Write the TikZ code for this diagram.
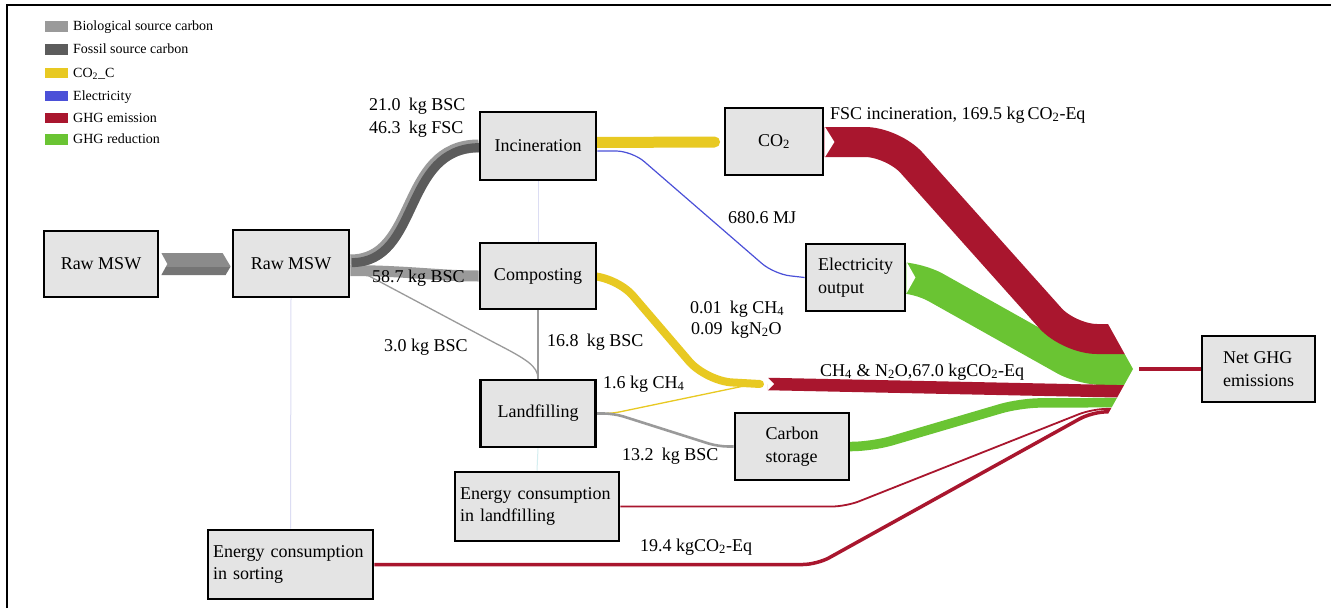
\documentclass[tikz,border=0pt]{standalone}
\usepackage{fontspec}
\setmainfont{Liberation Serif}
\usetikzlibrary{calc}
\pgfdeclarelayer{bg}
\pgfdeclarelayer{flows}
\pgfsetlayers{bg,flows,main}

\definecolor{biocarbon}{HTML}{9A9A9A}
\definecolor{fossilcarbon}{HTML}{5C5C5C}
\definecolor{cocarbon}{HTML}{E8C922}
\definecolor{power}{HTML}{4B50D8}
\definecolor{emission}{HTML}{A9162E}
\definecolor{reduction}{HTML}{6AC433}
\definecolor{boxgray}{HTML}{E4E4E4}
\definecolor{guide}{HTML}{DCDDF3}
\definecolor{guidecyan}{HTML}{D4EEF0}

\newcommand\labelfont{\fontsize{18}{22.5}\selectfont}
\newcommand\legendfont{\fontsize{14}{16}\selectfont}
\newcommand\lowtwo{\textsubscript{2}}
\newcommand\lowfour{\textsubscript{4}}

\begin{document}
\begin{tikzpicture}[x=1pt,y=-1pt,
  procbox/.style={draw=black, line width=2.8pt, fill=boxgray, font=\labelfont, inner sep=4pt},
  flowlabel/.style={font=\labelfont, inner sep=0pt, anchor=base west},
  swatch/.style={draw=none, inner sep=0pt, minimum width=23pt, minimum height=10.5pt},
  legendtext/.style={font=\legendfont, inner sep=0pt, anchor=base west},
]
\useasboundingbox (0,0) rectangle (1331,608);
\begin{pgfonlayer}{bg}
  \fill[white] (0,0) rectangle (1331,608);
  \draw[line width=2.5pt] (7,608) -- (7,5) -- (1331,5);
\end{pgfonlayer}

% ---------- process boxes ----------
\node[procbox, minimum width=114pt, minimum height=66pt] (raw1) at (101,264) {Raw MSW};
\node[procbox, minimum width=116pt, minimum height=67pt] (raw2) at (291,263.5) {Raw MSW};
\node[procbox, minimum width=116pt, minimum height=68pt] (inc) at (538,146) {Incineration};
\node[procbox, minimum width=116pt, minimum height=66pt] (comp) at (538,276) {Composting};
\node[procbox, minimum width=115pt, minimum height=67pt] (land) at (538,413.5) {Landfilling};
\node[procbox, minimum width=98pt, minimum height=67pt] (co2) at (774,141.5) {CO\lowtwo};
\node[procbox, minimum width=99pt, minimum height=67pt, align=left] (elec) at (855.5,277.5) {Electricity\\output};
\node[procbox, minimum width=114pt, minimum height=67pt, align=left] (store) at (792,446.5) {Carbon\\storage};
\node[procbox, minimum width=164pt, minimum height=69pt, align=left, text width=154pt] (enl) at (537,506.5) {Energy consumption\\in landfilling};
\node[procbox, minimum width=165pt, minimum height=69pt, align=left, text width=155pt] (ens) at (290.5,564.5) {Energy consumption\\in sorting};
\node[procbox, minimum width=113pt, minimum height=66pt, align=left] (net) at (1258.5,369) {Net GHG\\emissions};

\coordinate (hub) at (1133,369);
\coordinate (ghg) at (766,384);

% ---------- flows ----------
\begin{pgfonlayer}{flows}
  % faint guide lines
  \draw[guide, line width=1pt] (raw2.south) -- (ens.north);
  \draw[guide, line width=1pt] (inc.south) -- (comp.north);
  \draw[guidecyan, line width=1pt] (land.south) -- (enl.north);

  % raw MSW transfer (biological over fossil)
  \begin{scope}
    \clip ($(raw1.east)+(2,-11)$) -- ($(raw2.west)+(-9,-10.5)$) -- ($(raw2.west)+(-1,3)$)
          -- ($(raw2.west)+(-6,11.5)$) -- ($(raw1.east)+(2,11)$) -- ($(raw1.east)+(8,0)$) -- cycle;
    \fill[biocarbon!90!black] ($(raw1.east)+(0,-12)$) rectangle ($(raw2.west)+(0,3.5)$);
    \fill[fossilcarbon!85!white] ($(raw1.east)+(0,3)$) rectangle ($(raw2.west)+(0,12)$);
  \end{scope}

  % sorted waste to composting, incineration and landfill
  \draw[biocarbon, line width=11pt] ($(raw2.east)+(0,7)$) .. controls (410,271) and (440,276) .. (comp.west);
  \draw[biocarbon, line width=13pt] ($(raw2.east)+(0,-2.5)$) .. controls (420,261) and (400,146) .. (inc.west);
  \draw[fossilcarbon, line width=9pt, transform canvas={shift={(1.3,1.6)}}]
        ($(raw2.east)+(0,-2.5)$) .. controls (420,261) and (400,146) .. (inc.west);
  \draw[biocarbon, line width=1.3pt] ($(raw2.east)+(13,9.5)$) -- (495,343)
        .. controls (526,359) and (538,366) .. (land.north);
  \draw[biocarbon, line width=2pt] (comp.south) -- (land.north);

  % incineration outputs
  \draw[cocarbon, line width=11pt, line cap=round] ($(inc.east)+(-6,-3.5)$) -- ($(co2.west)+(-9,0.5)$);
  \draw[power, line width=1.2pt, rounded corners=16pt] ($(inc.east)+(0,5)$) -- (632,151) -- (774,274) -- (elec.west);

  % composting and landfill gases
  \draw[cocarbon, line width=8pt, line cap=round, rounded corners=26pt]
        ($(comp.east)+(-20,0)$) -- (616,276) -- (706,381) -- ($(ghg)+(-6,0)$);
  \draw[cocarbon, line width=1.3pt, rounded corners=8pt] ($(land.east)+(-5,0)$) -- (612,413.5) -- ($(ghg)+(-22,2)$);
  \draw[biocarbon, line width=2.6pt, rounded corners=10pt] ($(land.east)+(-5,0)$) -- (614,413.5) -- (718,446.5) -- (store.west);

  % greenhouse gas balance, merged at the hub
  \begin{scope}
    \clip (0,0) -- (1108,0) -- ($(hub)+(-25,-45)$) -- (hub) -- ($(hub)+(-25,45)$) -- (1108,608) -- (0,608) -- cycle;
    \draw[reduction, line width=31pt, rounded corners=20pt]
          ($(elec.east)+(-25,0)$) -- (918,277.5) -- (1082,369.5) -- ($(hub)+(20,0.5)$);
    \draw[emission, line width=30pt, rounded corners=28pt]
          ($(co2.east)+(-25,0.5)$) -- (893,142) -- (1069,339) -- ($(hub)+(20,-30)$);
    \draw[emission, line width=12.5pt] ($(ghg)+(2,0)$) -- ($(hub)+(20,23)$);
    \draw[reduction, line width=9.5pt, rounded corners=20pt]
          ($(store.east)+(-20,0)$) -- (872,446.5) -- (1020,403) -- ($(hub)+(20,33.5)$);
    \draw[emission, line width=1.8pt, rounded corners=14pt]
          (enl.east) -- (846,506.5) -- (1092,409) -- ($(hub)+(20,39.5)$);
    \draw[emission, line width=3.5pt, rounded corners=14pt]
          (ens.east) -- (817,564.5) -- (1092,412) -- ($(hub)+(20,42.5)$);
  \end{scope}

  % notched band starts
  \fill[white] ($(co2.east)+(0,-15.5)$) -- ($(co2.east)+(10,0.5)$) -- ($(co2.east)+(0,16.5)$) -- cycle;
  \fill[white] ($(elec.east)+(0,-16)$) -- ($(elec.east)+(9,0)$) -- ($(elec.east)+(0,16)$) -- cycle;
  \fill[white] ($(ghg)+(1.5,-6.5)$) -- ($(ghg)+(8,0)$) -- ($(ghg)+(1.5,6.5)$) -- cycle;

  % net result
  \draw[emission, line width=4.5pt] ($(hub)+(6,0)$) -- (net.west);
\end{pgfonlayer}

% ---------- flow labels ----------
\node[flowlabel] (lbsc) at (369,110) {21.0\hspace{0.45em}kg BSC};
\node[flowlabel] (lfsc) at (369,133) {46.3\hspace{0.45em}kg FSC};
\node[flowlabel] (lcomp) at (372,282) {58.7 kg BSC};
\node[flowlabel] (lland) at (384,351) {3.0 kg BSC};
\node[flowlabel] (lvert) at (547,346) {16.8\hspace{0.45em}kg BSC};
\node[flowlabel] (lch) at (603,388) {1.6 kg CH\lowfour};
\node[flowlabel] (lstore) at (622,460) {13.2\hspace{0.45em}kg BSC};
\node[flowlabel] (lgas1) at (690,313) {0.01\hspace{0.45em}kg CH\lowfour};
\node[flowlabel] (lgas2) at (691,334) {0.09\hspace{0.45em}kgN\lowtwo O};
\node[flowlabel] (lmj) at (728,223) {680.6 MJ};
\node[flowlabel] (lfscinc) at (830,119) {FSC incineration, 169.5 kg\,CO\lowtwo-Eq};
\node[flowlabel] (lmethane) at (820,376) {CH\lowfour\ \& N\lowtwo O,67.0 kgCO\lowtwo-Eq};
\node[flowlabel] (lsort) at (640,551) {19.4 kgCO\lowtwo-Eq};

% ---------- legend ----------
\node[swatch, fill=biocarbon] (k1) at (56.5,26.5) {};
\node[swatch, fill=fossilcarbon] (k2) at (56.5,49.5) {};
\node[swatch, fill=cocarbon] (k3) at (56.5,73) {};
\node[swatch, fill=power] (k4) at (56.5,96) {};
\node[swatch, fill=emission] (k5) at (56.5,118) {};
\node[swatch, fill=reduction] (k6) at (56.5,139.5) {};
\node[legendtext] (t1) at (73,30.5) {Biological source carbon};
\node[legendtext] (t2) at (73,53.5) {Fossil source carbon};
\node[legendtext] (t3) at (73,77) {CO\lowtwo\_C};
\node[legendtext] (t4) at (73,100) {Electricity};
\node[legendtext] (t5) at (73,122) {GHG emission};
\node[legendtext] (t6) at (73,143.5) {GHG reduction};
\end{tikzpicture}
\end{document}
